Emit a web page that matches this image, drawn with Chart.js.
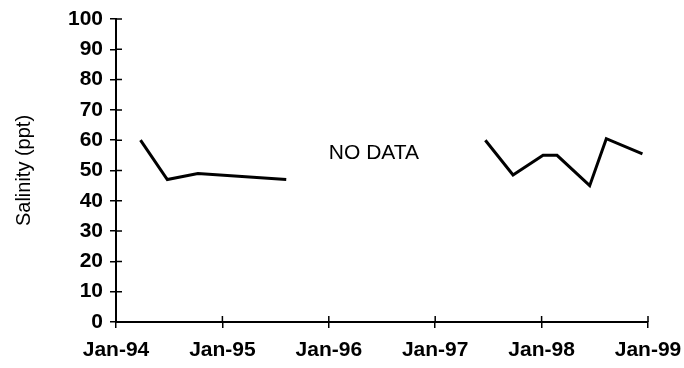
<!DOCTYPE html>
<html>
<head>
<meta charset="utf-8">
<script src="https://cdn.jsdelivr.net/npm/chart.js@4.4.1/dist/chart.umd.min.js"></script>
<style>
  html, body { margin: 0; padding: 0; background: #fff; }
  #wrap { width: 684px; height: 368px; }
</style>
</head>
<body>
<div id="wrap"><canvas id="chart" width="684" height="368"></canvas></div>
<script>
// Salinity samples, null marks the gap with no data
const sampleDates = ['1994-03-26', '1994-06-26', '1994-10-09', '1995-08-08', null,
                     '1997-06-22', '1997-09-25', '1998-01-06', '1998-02-23', '1998-06-15', '1998-08-11', '1998-12-13'];
const salinity = [60, 47, 49, 47, null, 60, 48.5, 55, 55, 45, 60.5, 55.5];
const yearTicks = [1994, 1995, 1996, 1997, 1998, 1999];
const yTicks = [0, 10, 20, 30, 40, 50, 60, 70, 80, 90, 100];
const noDataLabel = { text: 'NO DATA', x: 1996.0, y: 53.7 };

function toYear(s) {
    const [y, m, d] = s.split('-').map(Number);
    return y + (Date.UTC(y, m - 1, d) - Date.UTC(y, 0, 1)) / (365 * 86400000);
}

let lastYear = 1994;
const points = sampleDates.map((d, i) => {
    if (d === null) return { x: lastYear + 0.5, y: null };
    lastYear = toYear(d);
    return { x: lastYear, y: salinity[i] };
});

const FONT = "'Liberation Sans', Arial, sans-serif";

// tick marks crossing the axes + the NO DATA note
const crossTicks = {
    id: 'crossTicks',
    afterDraw(chart) {
        const c = chart.ctx;
        const xs = chart.scales.x, ys = chart.scales.y;
        c.save();
        c.strokeStyle = '#000';
        c.lineWidth = 1.5;
        c.beginPath();
        yTicks.forEach(v => {
            const py = ys.getPixelForValue(v);
            c.moveTo(xs.left, py);
            c.lineTo(xs.left + 6, py);
        });
        yearTicks.forEach(v => {
            const px = xs.getPixelForValue(v);
            c.moveTo(px, ys.bottom);
            c.lineTo(px, ys.bottom - 6);
        });
        c.stroke();
        c.fillStyle = '#000';
        c.font = '21px ' + FONT;
        c.textAlign = 'left';
        c.textBaseline = 'alphabetic';
        c.fillText(noDataLabel.text, xs.getPixelForValue(noDataLabel.x), ys.getPixelForValue(noDataLabel.y));
        c.restore();
    }
};

new Chart(document.getElementById('chart').getContext('2d'), {
    type: 'line',
    data: {
        datasets: [{
            data: points,
            borderColor: '#000',
            borderWidth: 3,
            pointRadius: 0,
            spanGaps: false,
            tension: 0
        }]
    },
    options: {
        responsive: false,
        animation: false,
        layout: { padding: { top: 19, right: 36, left: 0, bottom: 0 } },
        plugins: { legend: { display: false }, tooltip: { enabled: false } },
        scales: {
            x: {
                type: 'linear',
                min: 1994,
                max: 1999,
                afterBuildTicks(scale) { scale.ticks = yearTicks.map(v => ({ value: v })); },
                afterFit(scale) {
                    scale.height = 46;
                    scale.paddingLeft = 0;
                    scale.paddingRight = 0;
                },
                border: { color: '#000', width: 2 },
                grid: { drawOnChartArea: false, color: '#000', lineWidth: 1.5, tickLength: 6 },
                ticks: {
                    color: '#000',
                    padding: 10,
                    maxRotation: 0,
                    font: { family: FONT, size: 21, weight: 'bold' },
                    callback: v => 'Jan-' + String(v).slice(2)
                }
            },
            y: {
                min: 0,
                max: 100,
                afterBuildTicks(scale) { scale.ticks = yTicks.map(v => ({ value: v })); },
                afterFit(scale) {
                    scale.width = 116;
                    scale.paddingTop = 0;
                    scale.paddingBottom = 0;
                },
                border: { color: '#000', width: 2 },
                grid: { drawOnChartArea: false, color: '#000', lineWidth: 1.5, tickLength: 6 },
                ticks: {
                    color: '#000',
                    padding: 7,
                    font: { family: FONT, size: 21, weight: 'bold' }
                },
                title: {
                    display: true,
                    text: 'Salinity (ppt)',
                    color: '#000',
                    padding: { top: 12, bottom: 10 },
                    font: { family: FONT, size: 20 }
                }
            }
        }
    },
    plugins: [crossTicks]
});
</script>
</body>
</html>
